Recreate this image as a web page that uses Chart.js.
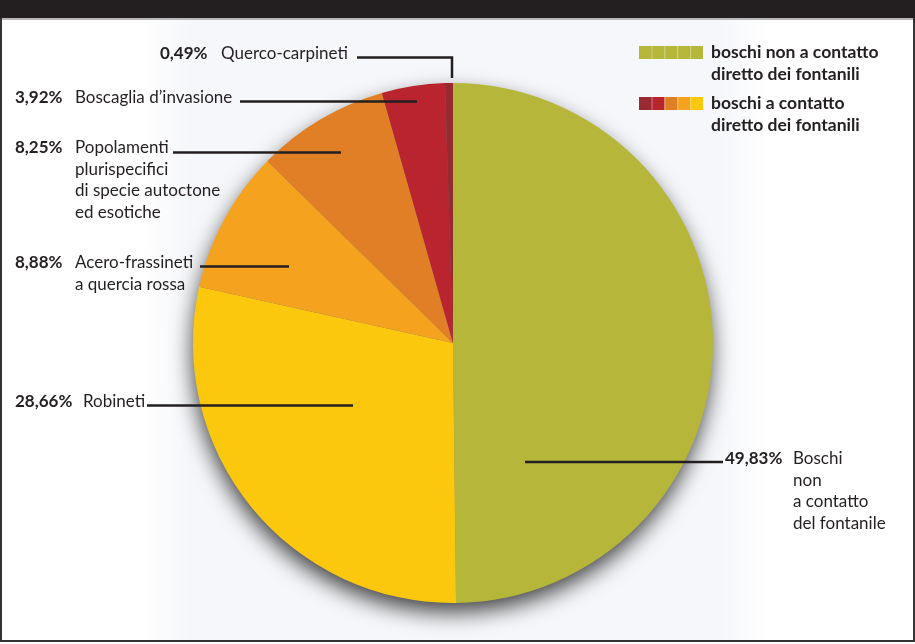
<!DOCTYPE html>
<html>
<head>
<meta charset="utf-8">
<script src="https://cdn.jsdelivr.net/npm/chart.js@4/dist/chart.umd.min.js"></script>
<style>
  html, body { margin: 0; padding: 0; background: #fff; }
  #wrap { position: relative; width: 915px; height: 644px; overflow: hidden; background: #fff; }
  #topbar { position: absolute; left: 0; top: 0; width: 915px; height: 18px; background: #231f20; }
  #topline { position: absolute; left: 0; top: 18px; width: 915px; height: 2px; background: #b9b9b9; }
  #tint { position: absolute; left: 140px; top: 20px; width: 630px; height: 622px;
          background: linear-gradient(to right, rgba(246,247,250,0) 0%, #f6f7fa 8%, #f6f7fa 92%, rgba(246,247,250,0) 100%); }
  #frame { position: absolute; left: 0; top: 18px; width: 911px; height: 622px;
           border-left: 2px solid #333; border-right: 2px solid #333; border-bottom: 2px solid #333; }
  canvas { position: absolute; left: 0; top: 0; }
</style>
</head>
<body>
<div id="wrap">
  <div id="topbar"></div>
  <div id="topline"></div>
  <div id="tint"></div>
  <div id="frame"></div>
  <canvas id="c" width="915" height="644"></canvas>
</div>
<script>
// ---- DATA ----
const categories = [
  'Boschi non a contatto del fontanile',
  'Robineti',
  'Acero-frassineti a quercia rossa',
  'Popolamenti plurispecifici di specie autoctone ed esotiche',
  'Boscaglia d\u2019invasione',
  'Querco-carpineti'
];
const values = [49.83, 28.66, 8.88, 8.25, 3.92, 0.49];
const labelLines = [
  ['Boschi', 'non', 'a contatto', 'del fontanile'],
  ['Robineti'],
  ['Acero-frassineti', 'a quercia rossa'],
  ['Popolamenti', 'plurispecifici', 'di specie autoctone', 'ed esotiche'],
  ['Boscaglia d\u2019invasione'],
  ['Querco-carpineti']
];
const colors = ['#b5b63a', '#fcc80e', '#f5a21e', '#e07f26', '#b9242f', '#962a30'];
const legendLabels = [
  ['boschi non a contatto', 'diretto dei fontanili'],
  ['boschi a contatto', 'diretto dei fontanili']
];
const legendSwatches = [
  ['#b5b63a', '#b5b63a', '#b5b63a', '#b5b63a', '#b5b63a'],
  ['#9a2a31', '#b9242f', '#e07f26', '#f5a21e', '#fcc80e']
];

// ---- LAYOUT (annotation positions, not data) ----
const FONT = 'Lato, "Open Sans", sans-serif';
const FS = 17;
const FSB = 17.5;
const LH = 21.5;
const TXT = '#231f20';
const annot = [
  { pctX: 725, textX: 793, y: 464, line: [[525, 462], [723, 462]] },
  { pctX: 15,  textX: 83,  y: 407, line: [[147, 405.5], [353, 405.5]] },
  { pctX: 15,  textX: 75,  y: 268, line: [[200, 266.5], [289, 266.5]] },
  { pctX: 15,  textX: 75,  y: 153, line: [[173, 152.5], [341, 152.5]] },
  { pctX: 15,  textX: 75,  y: 103, line: [[240, 101.5], [417, 101.5]] },
  { pctX: 160, textX: 221, y: 59,  line: [[357, 57.5], [452, 57.5], [452, 78]] }
];
const legendPos = [ { x: 639, y: 46, tx: 711, ty: 58 }, { x: 639, y: 97, tx: 711, ty: 109 } ];

const fmt = v => v.toFixed(2).replace('.', ',') + '%';

const shadowPlugin = {
  id: 'pieShadow',
  beforeDatasetsDraw(chart) {
    const arc = chart.getDatasetMeta(0).data[0];
    if (!arc) return;
    const ctx = chart.ctx;
    ctx.save();
    ctx.shadowColor = 'rgba(0,0,0,0.75)';
    ctx.shadowBlur = 22;
    ctx.shadowOffsetX = -1;
    ctx.shadowOffsetY = 10;
    ctx.beginPath();
    ctx.arc(arc.x, arc.y, arc.outerRadius - 1, 0, Math.PI * 2);
    ctx.fillStyle = '#777';
    ctx.fill();
    ctx.restore();
  }
};

const annotPlugin = {
  id: 'annot',
  afterDraw(chart) {
    const ctx = chart.ctx;
    ctx.save();
    ctx.strokeStyle = TXT;
    ctx.lineWidth = 2.5;
    ctx.lineJoin = 'miter';
    annot.forEach(a => {
      ctx.beginPath();
      a.line.forEach((p, i) => i ? ctx.lineTo(p[0], p[1]) : ctx.moveTo(p[0], p[1]));
      ctx.stroke();
    });
    ctx.fillStyle = TXT;
    ctx.textBaseline = 'alphabetic';
    ctx.textAlign = 'left';
    annot.forEach((a, i) => {
      ctx.font = 'bold ' + FS + 'px ' + FONT;
      ctx.fillText(fmt(values[i]), a.pctX, a.y);
      ctx.font = FS + 'px ' + FONT;
      labelLines[i].forEach((t, k) => ctx.fillText(t, a.textX, a.y + k * LH));
    });
    legendPos.forEach((p, i) => {
      const sw = legendSwatches[i];
      const cw = 64 / sw.length;
      sw.forEach((c, k) => {
        ctx.fillStyle = c;
        ctx.fillRect(p.x + k * cw, p.y, cw, 13);
        if (k > 0) {
          ctx.fillStyle = 'rgba(255,255,255,0.25)';
          ctx.fillRect(p.x + k * cw, p.y, 1, 13);
        }
      });
      ctx.fillStyle = TXT;
      ctx.font = 'bold ' + FSB + 'px ' + FONT;
      legendLabels[i].forEach((t, k) => ctx.fillText(t, p.tx, p.ty + k * LH));
    });
    ctx.restore();
  }
};

new Chart(document.getElementById('c'), {
  type: 'pie',
  data: {
    labels: categories,
    datasets: [{
      data: values,
      backgroundColor: colors,
      borderWidth: 0
    }]
  },
  options: {
    responsive: false,
    animation: false,
    layout: { padding: { left: 193, right: 202, top: 83, bottom: 41 } },
    plugins: { legend: { display: false }, tooltip: { enabled: false } }
  },
  plugins: [shadowPlugin, annotPlugin]
});
</script>
</body>
</html>
